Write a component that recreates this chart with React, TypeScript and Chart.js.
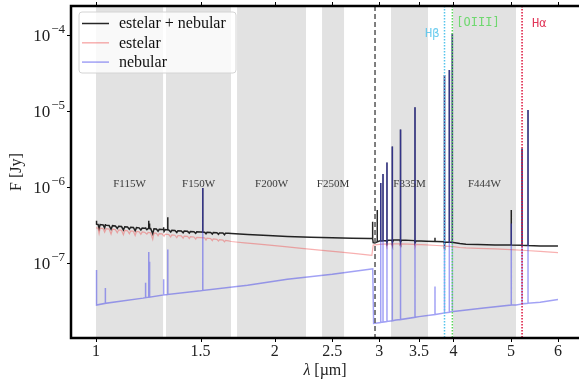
import React, { useEffect, useRef } from "react";
import { Chart, registerables } from "chart.js";

Chart.register(...registerables);

// ---------- data ----------
const seriesNames = ["estelar + nebular", "estelar", "nebular"];
const seriesColors = ["rgba(0,0,0,0.85)", "rgba(240,80,80,0.45)", "rgba(70,70,235,0.5)"];

const stellarWl = [1.000,1.008,1.012,1.016,1.028,1.034,1.040,1.052,1.060,1.066,1.078,1.086,1.092,1.104,1.112,1.118,1.130,1.138,1.144,1.156,1.164,1.170,1.182,1.190,1.196,1.208,1.218,1.224,1.236,1.246,1.252,1.264,1.272,1.278,1.292,1.302,1.308,1.326,1.336,1.342,1.358,1.368,1.374,1.392,1.402,1.408,1.426,1.436,1.442,1.462,1.472,1.478,1.500,1.524,1.532,1.538,1.560,1.570,1.576,1.598,1.608,1.614,1.636,1.646,1.652,1.672,1.690,1.72,1.78,1.86,1.96,2.08,2.22,2.38,2.56,2.74,2.89,2.915,2.93,3.0,3.08,3.09,3.10,3.15,3.156,3.165,3.25,3.258,3.27,3.44,3.446,3.46,3.6,3.75,3.855,3.864,3.875,4.0,4.1,4.2,4.4,4.7,5.0,5.3,5.6,6.0];
const stellarFlux = [2.90e-7,2.88e-7,2.45e-7,2.87e-7,2.84e-7,2.55e-7,2.83e-7,2.80e-7,2.40e-7,2.78e-7,2.75e-7,2.50e-7,2.73e-7,2.70e-7,2.35e-7,2.68e-7,2.66e-7,2.42e-7,2.64e-7,2.62e-7,2.30e-7,2.60e-7,2.58e-7,2.38e-7,2.56e-7,2.54e-7,2.40e-7,2.52e-7,2.50e-7,2.05e-7,2.48e-7,2.46e-7,2.28e-7,2.44e-7,2.42e-7,2.25e-7,2.40e-7,2.37e-7,2.20e-7,2.35e-7,2.32e-7,2.15e-7,2.30e-7,2.28e-7,2.12e-7,2.26e-7,2.24e-7,2.10e-7,2.22e-7,2.20e-7,2.06e-7,2.18e-7,2.16e-7,2.14e-7,2.00e-7,2.12e-7,2.10e-7,1.97e-7,2.08e-7,2.05e-7,1.94e-7,2.03e-7,2.00e-7,1.90e-7,1.98e-7,1.95e-7,1.92e-7,1.89e-7,1.84e-7,1.78e-7,1.72e-7,1.64e-7,1.56e-7,1.48e-7,1.40e-7,1.33e-7,1.27e-7,1.26e-7,1.72e-7,1.76e-7,1.78e-7,1.66e-7,1.78e-7,1.79e-7,1.66e-7,1.79e-7,1.79e-7,1.65e-7,1.79e-7,1.76e-7,1.62e-7,1.76e-7,1.73e-7,1.70e-7,1.68e-7,1.55e-7,1.67e-7,1.64e-7,1.60e-7,1.58e-7,1.56e-7,1.53e-7,1.50e-7,1.46e-7,1.42e-7,1.37e-7];

const nebularWl = [1.0, 1.2, 1.5, 1.8, 2.1, 2.5, 2.89, 2.925, 2.935, 3.2, 3.5, 4.0, 4.5, 5.1, 5.6, 6.0];
const nebularFlux = [2.8e-8, 3.45e-8, 4.3e-8, 5.1e-8, 6.1e-8, 7.1e-8, 8.3e-8, 8.4e-8, 1.6e-8, 1.78e-8, 1.97e-8, 2.3e-8, 2.55e-8, 2.8e-8, 3.05e-8, 3.3e-8];

const totalWl = [1.000,1.008,1.012,1.016,1.028,1.034,1.040,1.052,1.060,1.066,1.078,1.086,1.092,1.104,1.112,1.118,1.130,1.138,1.144,1.156,1.164,1.170,1.182,1.190,1.196,1.208,1.218,1.224,1.236,1.246,1.252,1.264,1.272,1.278,1.292,1.302,1.308,1.326,1.336,1.342,1.358,1.368,1.374,1.392,1.402,1.408,1.426,1.436,1.442,1.462,1.472,1.478,1.500,1.524,1.532,1.538,1.560,1.570,1.576,1.598,1.608,1.614,1.636,1.646,1.652,1.672,1.690,1.80,1.95,2.10,2.30,2.50,2.70,2.89,2.915,2.93,2.95,3.0,3.08,3.1,3.15,3.17,3.25,3.27,3.44,3.46,3.6,3.75,3.855,3.875,4.0,4.1,4.2,4.4,4.7,5.0,5.3,5.6,6.0];
const totalFlux = [3.25e-7,3.22e-7,2.85e-7,3.20e-7,3.17e-7,2.90e-7,3.15e-7,3.12e-7,2.78e-7,3.10e-7,3.07e-7,2.85e-7,3.05e-7,3.02e-7,2.72e-7,3.00e-7,2.98e-7,2.78e-7,2.96e-7,2.94e-7,2.65e-7,2.92e-7,2.90e-7,2.72e-7,2.88e-7,2.86e-7,2.74e-7,2.85e-7,2.84e-7,2.42e-7,2.82e-7,2.80e-7,2.62e-7,2.78e-7,2.76e-7,2.60e-7,2.75e-7,2.72e-7,2.56e-7,2.70e-7,2.68e-7,2.52e-7,2.66e-7,2.64e-7,2.50e-7,2.63e-7,2.61e-7,2.48e-7,2.60e-7,2.58e-7,2.45e-7,2.57e-7,2.56e-7,2.54e-7,2.42e-7,2.53e-7,2.52e-7,2.40e-7,2.51e-7,2.50e-7,2.38e-7,2.49e-7,2.48e-7,2.36e-7,2.47e-7,2.46e-7,2.45e-7,2.38e-7,2.30e-7,2.23e-7,2.18e-7,2.15e-7,2.12e-7,2.10e-7,2.10e-7,1.86e-7,1.84e-7,1.95e-7,1.98e-7,1.99e-7,2.0e-7,2.0e-7,2.0e-7,2.0e-7,1.97e-7,1.96e-7,1.94e-7,1.92e-7,1.90e-7,1.89e-7,1.86e-7,1.80e-7,1.77e-7,1.75e-7,1.73e-7,1.72e-7,1.70e-7,1.68e-7,1.67e-7];

// emission lines
const lineWl =      [1.002, 1.037, 1.212, 1.227, 1.231, 1.300, 1.321, 1.513, 2.924, 2.977, 3.017, 3.044, 3.091, 3.156, 3.258, 3.446, 3.724, 3.864, 3.937, 3.983, 5.006, 5.22, 5.342];
const nebLineBase = [2.8e-8, 2.95e-8, 3.5e-8, 3.55e-8, 3.55e-8, 3.8e-8, 3.85e-8, 4.35e-8, null, null, 1.65e-8, 1.67e-8, 1.7e-8, 1.74e-8, 1.8e-8, 1.93e-8, 2.1e-8, 2.2e-8, 2.25e-8, 2.3e-8, 2.8e-8, 2.9e-8, 2.95e-8];
const nebLinePeak = [8.1e-8, 4.7e-8, 5.5e-8, 1.4e-7, 1.04e-7, 6.1e-8, 1.51e-7, 9.7e-7, null, null, 1.13e-6, 1.48e-6, 2.1e-6, 3.4e-6, 5.7e-6, 1.12e-5, 4.9e-8, 2.97e-5, 3.47e-5, 1.05e-4, 3.3e-7, 3.2e-6, 1.03e-5];
const totLineBase = [3.24e-7, 3.16e-7, 2.86e-7, 2.85e-7, 2.84e-7, 2.76e-7, 2.72e-7, 2.55e-7, 2.10e-7, 1.90e-7, 1.95e-7, 1.96e-7, 1.86e-7, 1.86e-7, 1.87e-7, 1.84e-7, 1.92e-7, 1.76e-7, 1.88e-7, 1.87e-7, 1.72e-7, 1.71e-7, 1.70e-7];
const totLinePeak = [3.6e-7, 3.25e-7, 2.95e-7, 3.6e-7, 3.3e-7, 2.95e-7, 4.0e-7, 9.7e-7, 3.5e-7, 5.0e-7, 1.13e-6, 1.48e-6, 2.1e-6, 3.4e-6, 5.7e-6, 1.12e-5, 2.15e-7, 2.97e-5, 3.47e-5, 1.05e-4, 5.0e-7, 3.2e-6, 1.03e-5];

// filters
const filterNames = ["F115W", "F150W", "F200W", "F250M", "F335M", "F444W"];
const filterLo = [1.0, 1.312, 1.728, 2.403, 3.14, 3.994];
const filterHi = [1.297, 1.688, 2.258, 2.617, 3.624, 5.098];
const filterLabelFlux = 1.1e-6;

// line markers
const markerNames = ["Hβ", "[OIII]", "Hα"];
const markerWl = [3.864, 3.983, 5.22];
const markerColors = ["#55c4ec", "#5ad65a", "#dc143c"];
const breakWl = 2.951;

// axes
const xTicks = [1, 1.5, 2, 2.5, 3, 3.5, 4, 5, 6];
const yTicks = [1e-7, 1e-6, 1e-5, 1e-4];
const xMin = 0.9075, xMax = 6.51;
const yMin = 1.031e-8, yMax = 2.407e-4;

type Pt = { x: number; y: number; k: number };
function buildSeries(cw: number[], cf: number[], base: (number | null)[] | null, peak: (number | null)[] | null) {
  const pts: Pt[] = cw.map((w, i) => ({ x: w, y: cf[i], k: 0 }));
  if (base && peak) {
    lineWl.forEach((w, i) => {
      const b = base[i], p = peak[i];
      if (b == null || p == null) return;
      pts.push({ x: w, y: b, k: 1 }, { x: w, y: p, k: 2 }, { x: w, y: b, k: 3 });
    });
  }
  pts.sort((a, b) => a.x - b.x || a.k - b.k);
  return pts.map((p) => ({ x: p.x, y: p.y }));
}

const SERIF = "'Liberation Serif', 'DejaVu Serif', serif";
const MONO = "'DejaVu Sans Mono', monospace";

const decor = {
  id: "decor",
  beforeDatasetsDraw(chart: any) {
    const { ctx, chartArea: a, scales } = chart;
    const x = scales.x;
    ctx.save();
    ctx.beginPath();
    ctx.rect(a.left, a.top, a.right - a.left, a.bottom - a.top);
    ctx.clip();
    ctx.fillStyle = "#e2e2e2";
    filterLo.forEach((lo, i) => {
      const x0 = x.getPixelForValue(lo);
      const x1 = x.getPixelForValue(filterHi[i]);
      ctx.fillRect(x0, a.top, x1 - x0, a.bottom - a.top);
    });
    ctx.restore();
  },
  afterDatasetsDraw(chart: any) {
    const { ctx, chartArea: a, scales } = chart;
    const x = scales.x, y = scales.y;
    ctx.save();
    ctx.beginPath();
    ctx.rect(a.left, a.top, a.right - a.left, a.bottom - a.top);
    ctx.clip();

    // filter labels
    ctx.fillStyle = "#3a3a3a";
    ctx.font = `11px ${SERIF}`;
    ctx.textAlign = "center";
    ctx.textBaseline = "middle";
    const ly = y.getPixelForValue(filterLabelFlux);
    filterNames.forEach((n, i) => {
      const cx = (x.getPixelForValue(filterLo[i]) + x.getPixelForValue(filterHi[i])) / 2;
      ctx.fillText(n, cx, ly);
    });

    // break line
    const bx = x.getPixelForValue(breakWl);
    ctx.strokeStyle = "#555";
    ctx.lineWidth = 1.5;
    ctx.setLineDash([5, 3]);
    ctx.beginPath();
    ctx.moveTo(bx, a.top);
    ctx.lineTo(bx, a.bottom);
    ctx.stroke();

    // markers
    ctx.lineWidth = 1.5;
    ctx.setLineDash([1.5, 1.5]);
    markerWl.forEach((w, i) => {
      const mx = x.getPixelForValue(w);
      ctx.strokeStyle = markerColors[i];
      ctx.beginPath();
      ctx.moveTo(mx, a.top);
      ctx.lineTo(mx, a.bottom);
      ctx.stroke();
    });
    ctx.setLineDash([]);
    ctx.font = `12px ${MONO}`;
    ctx.textBaseline = "middle";
    markerNames.forEach((n, i) => {
      const mx = x.getPixelForValue(markerWl[i]);
      ctx.fillStyle = markerColors[i];
      ctx.globalAlpha = 0.85;
      if (i === 0) {
        ctx.textAlign = "right";
        ctx.fillText(n, mx - 5, a.top + 28);
      } else if (i === 1) {
        ctx.textAlign = "left";
        ctx.fillText(n, mx + 4, a.top + 17);
      } else {
        ctx.textAlign = "left";
        ctx.fillText(n, mx + 10, a.top + 18);
      }
    });
    ctx.globalAlpha = 1;
    ctx.restore();

    // legend
    ctx.save();
    const lx = 79, lyy = 12, lw = 157, lh = 61;
    ctx.beginPath();
    ctx.roundRect(lx, lyy, lw, lh, 3);
    ctx.fillStyle = "rgba(255,255,255,0.8)";
    ctx.fill();
    ctx.strokeStyle = "#d4d4d4";
    ctx.lineWidth = 1;
    ctx.stroke();
    ctx.font = `16px ${SERIF}`;
    ctx.textAlign = "left";
    ctx.textBaseline = "middle";
    seriesNames.forEach((n, i) => {
      const ry = lyy + 11.5 + i * 19.3;
      ctx.strokeStyle = seriesColors[i];
      ctx.lineWidth = 1.5;
      ctx.beginPath();
      ctx.moveTo(lx + 3, ry);
      ctx.lineTo(lx + 30, ry);
      ctx.stroke();
      ctx.fillStyle = "#111";
      ctx.fillText(n, lx + 40, ry + 0.5);
    });
    ctx.restore();

    // frame
    ctx.save();
    ctx.strokeStyle = "#000";
    ctx.lineWidth = 2.5;
    ctx.beginPath();
    ctx.moveTo(a.right + 5, a.top);
    ctx.lineTo(a.left, a.top);
    ctx.lineTo(a.left, a.bottom);
    ctx.lineTo(a.right + 5, a.bottom);
    ctx.stroke();

    // ticks
    ctx.lineWidth = 1;
    ctx.beginPath();
    xTicks.forEach((t) => {
      const px = Math.round(x.getPixelForValue(t)) + 0.5;
      ctx.moveTo(px, a.bottom);
      ctx.lineTo(px, a.bottom + 4);
      ctx.moveTo(px, a.top);
      ctx.lineTo(px, a.top - 4);
    });
    yTicks.forEach((t) => {
      const py = Math.round(y.getPixelForValue(t)) + 0.5;
      ctx.moveTo(a.left, py);
      ctx.lineTo(a.left - 4, py);
    });
    ctx.stroke();

    // x tick labels
    ctx.fillStyle = "#222";
    ctx.font = `16px ${SERIF}`;
    ctx.textAlign = "center";
    ctx.textBaseline = "top";
    xTicks.forEach((t) => {
      ctx.fillText(String(t), x.getPixelForValue(t), a.bottom + 6);
    });

    // y tick labels
    yTicks.forEach((t) => {
      const py = y.getPixelForValue(t);
      const exp = "\u2212" + Math.abs(Math.round(Math.log10(t)));
      ctx.font = `13px ${SERIF}`;
      const ew = ctx.measureText(exp).width;
      ctx.textAlign = "right";
      ctx.textBaseline = "alphabetic";
      const right = a.left - 6;
      ctx.fillText(exp, right, py - 2);
      ctx.font = `17px ${SERIF}`;
      ctx.fillText("10", right - ew - 1, py + 6);
    });

    // axis titles
    ctx.font = `italic 16px ${SERIF}`;
    const lam = "λ";
    const lamW = ctx.measureText(lam).width;
    ctx.font = `16px ${SERIF}`;
    const rest = " [µm]";
    const restW = ctx.measureText(rest).width;
    const cx = (a.left + a.right) / 2;
    const sx = cx - (lamW + restW) / 2;
    ctx.textAlign = "left";
    ctx.textBaseline = "middle";
    ctx.font = `italic 16px ${SERIF}`;
    ctx.fillText(lam, sx, 371);
    ctx.font = `16px ${SERIF}`;
    ctx.fillText(rest, sx + lamW, 371);

    ctx.translate(17, (a.top + a.bottom) / 2);
    ctx.rotate(-Math.PI / 2);
    ctx.textAlign = "center";
    ctx.fillText("F [Jy]", 0, 0);
    ctx.restore();
  },
};

export default function App() {
  const ref = useRef<HTMLCanvasElement | null>(null);
  useEffect(() => {
    if (!ref.current) return;
    const chart = new Chart(ref.current, {
      type: "line",
      data: {
        datasets: [
          {
            label: seriesNames[0],
            data: buildSeries(totalWl, totalFlux, totLineBase, totLinePeak),
            borderColor: seriesColors[0],
            borderWidth: 1.5,
            pointRadius: 0,
            order: 3,
          },
          {
            label: seriesNames[1],
            data: buildSeries(stellarWl, stellarFlux, null, null),
            borderColor: seriesColors[1],
            borderWidth: 1.2,
            pointRadius: 0,
            order: 2,
          },
          {
            label: seriesNames[2],
            data: buildSeries(nebularWl, nebularFlux, nebLineBase, nebLinePeak),
            borderColor: seriesColors[2],
            borderWidth: 1.5,
            pointRadius: 0,
            order: 1,
          },
        ],
      },
      options: {
        animation: false,
        responsive: false,
        devicePixelRatio: 1,
        events: [],
        layout: { padding: { top: 6, right: 0, left: 0, bottom: 0 } },
        plugins: { legend: { display: false }, tooltip: { enabled: false } },
        elements: { line: { tension: 0 }, point: { radius: 0 } },
        scales: {
          x: {
            type: "logarithmic",
            min: xMin,
            max: xMax,
            grid: { display: false },
            border: { display: false },
            ticks: { display: false },
            afterFit: (s: any) => {
              s.height = 41;
            },
          },
          y: {
            type: "logarithmic",
            min: yMin,
            max: yMax,
            grid: { display: false },
            border: { display: false },
            ticks: { display: false },
            afterFit: (s: any) => {
              s.width = 71;
            },
          },
        },
      },
      plugins: [decor],
    } as any);
    return () => chart.destroy();
  }, []);
  return (
    <div style={{ position: "fixed", left: 0, top: 0, width: 579, height: 379, background: "#fff" }}>
      <canvas ref={ref} width={579} height={379} style={{ display: "block" }} />
    </div>
  );
}
